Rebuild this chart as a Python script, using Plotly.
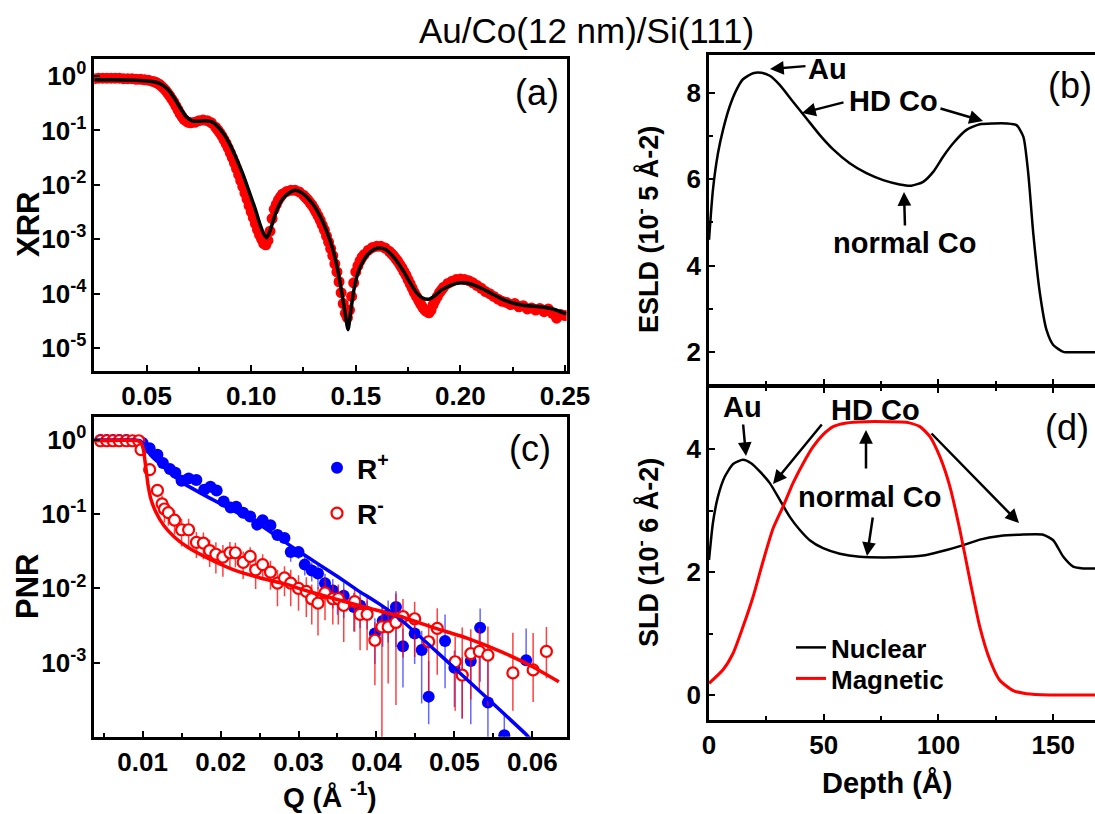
import plotly.graph_objects as go

W, H = 1095, 814
FONT = "Liberation Sans, Arial, sans-serif"

# ---------------- (a) XRR ----------------
xrr_q = [0.025, 0.027, 0.029, 0.031, 0.033, 0.035, 0.037, 0.039, 0.041, 0.043,
         0.045, 0.047, 0.049, 0.051, 0.053, 0.054, 0.055, 0.056, 0.057, 0.058,
         0.059, 0.060, 0.061, 0.062, 0.063, 0.064, 0.065, 0.066, 0.067, 0.068,
         0.069, 0.070, 0.071, 0.073, 0.075, 0.077, 0.079, 0.081, 0.083, 0.084,
         0.085, 0.086, 0.087, 0.088, 0.089, 0.090, 0.091, 0.092, 0.093, 0.094,
         0.095, 0.096, 0.097, 0.098, 0.099, 0.100, 0.101, 0.102, 0.103, 0.104,
         0.105, 0.106, 0.107, 0.108, 0.109, 0.110, 0.111, 0.112, 0.113, 0.114,
         0.115, 0.117, 0.119, 0.121, 0.123, 0.125, 0.126, 0.127, 0.128, 0.129,
         0.130, 0.131, 0.132, 0.133, 0.134, 0.135, 0.136, 0.137, 0.138, 0.139,
         0.140, 0.141, 0.142, 0.143, 0.144, 0.145, 0.146, 0.147, 0.148, 0.149,
         0.150, 0.151, 0.152, 0.153, 0.154, 0.156, 0.158, 0.160, 0.162, 0.164,
         0.166, 0.167, 0.168, 0.169, 0.170, 0.171, 0.172, 0.173, 0.174, 0.175,
         0.176, 0.177, 0.178, 0.179, 0.180, 0.181, 0.182, 0.183, 0.184, 0.185,
         0.186, 0.187, 0.188, 0.189, 0.190, 0.191, 0.192, 0.194, 0.196, 0.198,
         0.200, 0.202, 0.204, 0.206, 0.208, 0.210, 0.212, 0.214, 0.216, 0.218,
         0.220, 0.222, 0.224, 0.226, 0.228, 0.230, 0.232, 0.234, 0.236, 0.238,
         0.240, 0.242, 0.244, 0.246, 0.248, 0.250]
xrr_log = [-0.05, -0.04, -0.04, -0.04, -0.04, -0.04, -0.04, -0.05, -0.05, -0.05,
           -0.06, -0.06, -0.07, -0.08, -0.10, -0.11, -0.13, -0.15, -0.18, -0.22,
           -0.26, -0.31, -0.36, -0.42, -0.48, -0.55, -0.62, -0.69, -0.75, -0.80,
           -0.83, -0.85, -0.86, -0.85, -0.82, -0.81, -0.82, -0.86, -0.94, -0.99,
           -1.04, -1.10, -1.17, -1.24, -1.32, -1.41, -1.50, -1.60, -1.70, -1.81,
           -1.92, -2.03, -2.15, -2.26, -2.38, -2.49, -2.60, -2.71, -2.82, -2.92,
           -3.00, -3.08, -3.10, -3.02, -2.85, -2.62, -2.45, -2.36, -2.28, -2.22,
           -2.17, -2.12, -2.10, -2.10, -2.13, -2.19, -2.23, -2.27, -2.32, -2.37,
           -2.43, -2.50, -2.57, -2.65, -2.74, -2.83, -2.94, -3.05, -3.17, -3.30,
           -3.45, -3.60, -3.78, -3.98, -4.18, -4.36, -4.44, -4.30, -4.05, -3.80,
           -3.60, -3.49, -3.40, -3.33, -3.28, -3.20, -3.15, -3.13, -3.13, -3.16,
           -3.22, -3.26, -3.30, -3.35, -3.40, -3.46, -3.52, -3.59, -3.66, -3.74,
           -3.82, -3.90, -3.98, -4.05, -4.12, -4.19, -4.25, -4.30, -4.33, -4.35,
           -4.30, -4.20, -4.12, -4.05, -3.98, -3.93, -3.88, -3.81, -3.77, -3.74,
           -3.73, -3.74, -3.76, -3.80, -3.85, -3.90, -3.96, -4.00, -4.05, -4.10,
           -4.14, -4.16, -4.20, -4.18, -4.24, -4.22, -4.28, -4.26, -4.30, -4.27,
           -4.33, -4.28, -4.36, -4.45, -4.38, -4.40]
xrr_fit_q = [0.025, 0.035, 0.045, 0.050, 0.054, 0.057, 0.060, 0.063, 0.066, 0.069,
             0.072, 0.075, 0.078, 0.081, 0.084, 0.087, 0.090, 0.093, 0.096, 0.099,
             0.102, 0.104, 0.106, 0.1075, 0.109, 0.111, 0.113, 0.115, 0.118, 0.121,
             0.124, 0.127, 0.130, 0.133, 0.136, 0.139, 0.1415, 0.1435, 0.145, 0.1463,
             0.1475, 0.149, 0.151, 0.154, 0.157, 0.1605, 0.164, 0.167, 0.170, 0.173,
             0.176, 0.179, 0.182, 0.185, 0.188, 0.191, 0.195, 0.200, 0.205, 0.210,
             0.215, 0.220, 0.225, 0.230, 0.235, 0.240, 0.245, 0.2505]
xrr_fit_log = [-0.07, -0.07, -0.08, -0.09, -0.11, -0.15, -0.24, -0.39, -0.58, -0.75,
               -0.83, -0.83, -0.82, -0.84, -0.93, -1.07, -1.27, -1.52, -1.80, -2.12,
               -2.45, -2.70, -2.90, -2.97, -2.85, -2.60, -2.40, -2.26, -2.15, -2.10,
               -2.14, -2.24, -2.38, -2.58, -2.84, -3.18, -3.58, -4.02, -4.38, -4.66,
               -4.35, -3.95, -3.62, -3.37, -3.23, -3.16, -3.18, -3.28, -3.42, -3.60,
               -3.80, -3.98, -4.08, -4.10, -4.03, -3.93, -3.85, -3.80, -3.82, -3.90,
               -4.00, -4.10, -4.17, -4.21, -4.23, -4.25, -4.29, -4.37]

# ---------------- (c) PNR ----------------
rp_q = [0.0046, 0.0054, 0.0062, 0.0070, 0.0079, 0.0087, 0.0100, 0.0109, 0.0119, 0.0126,
        0.0135, 0.0142, 0.0150, 0.0159, 0.0169, 0.0179, 0.0187, 0.0195, 0.0204, 0.0213,
        0.0220, 0.0229, 0.0238, 0.0247, 0.0254, 0.0264, 0.0273, 0.0282, 0.0290, 0.0300,
        0.0308, 0.0317, 0.0325, 0.0334, 0.0344, 0.0350, 0.0358, 0.0371, 0.0379, 0.0388,
        0.0398, 0.0408, 0.0415, 0.0425, 0.0434, 0.0449, 0.0458, 0.0467, 0.0488, 0.0500,
        0.0510, 0.0521, 0.0533, 0.0543, 0.0564, 0.0592]
rp_log = [0.00, 0.00, 0.00, 0.00, 0.00, -0.01, -0.04, -0.11, -0.20, -0.31,
          -0.39, -0.44, -0.55, -0.52, -0.54, -0.67, -0.63, -0.68, -0.83, -0.91,
          -0.90, -0.98, -1.03, -1.14, -1.08, -1.15, -1.28, -1.32, -1.51, -1.51,
          -1.68, -1.76, -1.80, -1.93, -2.03, -2.13, -2.10, -2.25, -2.23, -2.32,
          -2.61, -2.44, -2.36, -2.25, -2.78, -2.61, -2.83, -3.46, -2.71, -3.07,
          -3.17, -2.98, -2.53, -3.54, -3.98, -2.97]
rp_err_plus = [0, 0, 0, 0, 0, 0, 0, 0, 0, 0,
               0, 0, 0, 0, 0, 0, 0, 0, 0, 0,
               0, 0, 0, 0.012, 0, 0.012, 0, 0, 0.008, 0.006,
               0.006, 0.005, 0.006, 0.004, 0.004, 0.003, 0.004, 0.003, 0.003, 0.002,
               0.0015, 0.002, 0.0025, 0.0035, 0.0012, 0.0015, 0.0012, 0.0007, 0.0025, 0.0006,
               0.0005, 0.0009, 0.0024, 0.001, 0.0001, 0.0018]
rp_err_minus = [0, 0, 0, 0, 0, 0, 0, 0, 0, 0,
                0, 0, 0, 0, 0, 0, 0, 0, 0, 0,
                0, 0, 0, 0.012, 0, 0.012, 0, 0, 0.008, 0.006,
                0.006, 0.005, 0.006, 0.004, 0.004, 0.003, 0.004, 0.003, 0.003, 0.002,
                0.0015, 0.002, 0.0025, 0.004, 0.0012, 0.0015, 0.0012, 0.0002, 0.0015, 0.0006,
                0.0005, 0.0009, 0.0024, 0.0002, 0.0001, 0.0001]

rm_q = [0.0046, 0.0054, 0.0062, 0.0070, 0.0079, 0.0087, 0.0095, 0.0098, 0.0109, 0.0119,
        0.0125, 0.0128, 0.0133, 0.0141, 0.0150, 0.0159, 0.0169, 0.0178, 0.0186, 0.0194,
        0.0203, 0.0212, 0.0219, 0.0229, 0.0238, 0.0245, 0.0254, 0.0264, 0.0273, 0.0282,
        0.0290, 0.0300, 0.0310, 0.0317, 0.0325, 0.0334, 0.0344, 0.0351, 0.0358, 0.0372,
        0.0379, 0.0388, 0.0398, 0.0407, 0.0415, 0.0425, 0.0434, 0.0449, 0.0467, 0.0478,
        0.0501, 0.0510, 0.0521, 0.0532, 0.0543, 0.0575, 0.0601, 0.0618]
rm_log = [-0.01, -0.01, -0.01, -0.01, -0.01, -0.01, -0.01, -0.13, -0.40, -0.68,
          -0.86, -0.93, -0.98, -1.08, -1.21, -1.21, -1.38, -1.39, -1.49, -1.54,
          -1.58, -1.52, -1.52, -1.65, -1.57, -1.75, -1.68, -1.78, -1.93, -1.86,
          -1.93, -2.00, -2.04, -2.14, -2.20, -2.06, -2.14, -2.14, -2.23, -2.18,
          -2.35, -2.35, -2.70, -2.52, -2.52, -2.46, -2.38, -2.41, -2.72, -2.54,
          -2.99, -3.17, -2.88, -2.85, -2.90, -3.14, -3.10, -2.85]
rm_err_plus = [0, 0, 0, 0, 0, 0, 0, 0, 0.04, 0.04,
               0.04, 0.04, 0.035, 0.03, 0.025, 0.025, 0.016, 0.016, 0.013, 0.013,
               0.012, 0.012, 0.011, 0.009, 0.009, 0.008, 0.008, 0.007, 0.006, 0.006,
               0.006, 0.005, 0.005, 0.004, 0.004, 0.005, 0.004, 0.004, 0.004, 0.004,
               0.003, 0.003, 0.0015, 0.003, 0.0025, 0.005, 0.003, 0.0027, 0.0015, 0.0025,
               0.0012, 0.0023, 0.0015, 0.0015, 0.0018, 0.0018, 0.0017, 0.0016]
rm_err_minus = [0, 0, 0, 0, 0, 0, 0, 0, 0.04, 0.04,
                0.04, 0.04, 0.035, 0.03, 0.025, 0.025, 0.016, 0.016, 0.013, 0.013,
                0.012, 0.012, 0.011, 0.009, 0.009, 0.008, 0.008, 0.007, 0.006, 0.006,
                0.006, 0.005, 0.005, 0.004, 0.004, 0.005, 0.004, 0.004, 0.004, 0.004,
                0.003, 0.003, 0.0015, 0.003, 0.0025, 0.0032, 0.003, 0.0027, 0.0015, 0.0022,
                0.0008, 0.0005, 0.001, 0.001, 0.001, 0.0005, 0.0005, 0.0008]

rp_fit_q = [0.0038, 0.0090, 0.0097, 0.0100, 0.0105, 0.0110, 0.0120, 0.0130, 0.0140, 0.0150,
            0.0175, 0.0200, 0.0225, 0.0250, 0.0275, 0.0300, 0.0325, 0.0350, 0.0375, 0.0405,
            0.0431, 0.0482, 0.0546, 0.0593, 0.0600]
rp_fit_log = [0.0, 0.0, -0.01, -0.04, -0.12, -0.20, -0.30, -0.39, -0.48, -0.57,
              -0.72, -0.86, -1.00, -1.14, -1.32, -1.50, -1.67, -1.84, -2.02, -2.22,
              -2.42, -2.90, -3.52, -3.98, -4.06]
rm_fit_q = [0.0038, 0.0094, 0.0098, 0.0101, 0.0104, 0.0107, 0.0111, 0.0117, 0.0127, 0.0140,
            0.0157, 0.0183, 0.0217, 0.0251, 0.0286, 0.0303, 0.0346, 0.0388, 0.0431, 0.0473,
            0.0516, 0.0559, 0.0601, 0.0634]
rm_fit_log = [-0.01, -0.01, -0.04, -0.13, -0.36, -0.61, -0.81, -0.97, -1.15, -1.30,
              -1.44, -1.59, -1.75, -1.86, -1.95, -2.01, -2.14, -2.26, -2.38, -2.53,
              -2.67, -2.85, -3.06, -3.26]

# ---------------- (b) ESLD ----------------
esld_depth = [0, 1.7, 3.9, 6.1, 9.0, 11.9, 14.8, 19.2, 22.8, 26.5,
              30.8, 36.6, 42.4, 48.3, 54.1, 61.3, 68.6, 75.9, 83.1, 88.2,
              93.3, 97.7, 102.0, 106.4, 112.2, 118.0, 123.8, 129.7, 134.0, 137.0,
              139.1, 141.3, 144.2, 147.1, 150.0, 154.4, 158.7, 170.0]
esld_val = [4.60, 5.75, 6.60, 7.14, 7.68, 8.06, 8.31, 8.45, 8.46, 8.39,
            8.18, 7.79, 7.41, 7.02, 6.69, 6.37, 6.14, 5.98, 5.88, 5.85,
            5.94, 6.17, 6.52, 6.83, 7.14, 7.27, 7.29, 7.29, 7.25, 6.98,
            6.14, 4.75, 3.36, 2.51, 2.17, 2.01, 2.00, 2.00]

# ---------------- (d) SLD ----------------
nuc_depth = [0, 1.7, 3.9, 6.8, 10.5, 14.8, 18.5, 22.1, 26.5, 30.8,
             35.2, 39.5, 43.9, 49.7, 57.0, 65.7, 75.9, 86.0, 94.8, 103.5,
             110.8, 118.0, 126.7, 135.5, 145.6, 150.0, 154.4, 158.7, 163.0, 170.0]
nuc_val = [2.20, 2.80, 3.23, 3.55, 3.76, 3.83, 3.77, 3.64, 3.45, 3.18,
           2.90, 2.69, 2.52, 2.39, 2.30, 2.25, 2.24, 2.25, 2.28, 2.36,
           2.44, 2.53, 2.59, 2.61, 2.61, 2.52, 2.25, 2.09, 2.06, 2.06]
mag_depth = [0, 6.1, 10.5, 14.8, 19.2, 23.5, 27.9, 32.3, 36.6, 41.0,
             45.3, 49.7, 54.1, 59.9, 68.6, 77.3, 86.0, 91.9, 96.2, 100.6,
             105.0, 109.3, 113.7, 118.0, 122.4, 126.7, 132.6, 138.4, 148.5, 170.0]
mag_val = [0.19, 0.41, 0.68, 1.11, 1.60, 2.17, 2.71, 3.07, 3.45, 3.77,
           4.04, 4.24, 4.37, 4.43, 4.45, 4.45, 4.44, 4.37, 4.21, 3.88,
           3.39, 2.69, 1.87, 1.11, 0.57, 0.24, 0.07, 0.02, 0.00, 0.00]

log_ticks_a = [0, -1, -2, -3, -4, -5]
log_ticks_c = [0, -1, -2, -3]


def pw(v):
    return [10 ** x for x in v]


def px(x, y):
    return x / W, 1 - y / H


fig = go.Figure()

# (a)
fig.add_trace(go.Scatter(x=xrr_q, y=pw(xrr_log), mode="markers",
                         marker=dict(color="red", size=11, line=dict(width=0)),
                         xaxis="x", yaxis="y", showlegend=False))
fig.add_trace(go.Scatter(x=xrr_fit_q, y=pw(xrr_fit_log), mode="lines",
                         line=dict(color="black", width=3.5, shape="spline", smoothing=0.6),
                         xaxis="x", yaxis="y", showlegend=False))

# (c)
fig.add_trace(go.Scatter(x=rp_q, y=pw(rp_log), mode="markers", name="R<sup>+</sup>",
                         marker=dict(color="blue", size=12, symbol="circle"),
                         error_y=dict(type="data", array=rp_err_plus, arrayminus=rp_err_minus,
                                      color="rgba(0,0,255,0.6)", thickness=1.5, width=0),
                         xaxis="x2", yaxis="y2", legend="legend", legendgroup="p"))
fig.add_trace(go.Scatter(x=rm_q, y=pw(rm_log), mode="markers", name="R<sup>-</sup>",
                         marker=dict(color="white", size=11, symbol="circle",
                                     line=dict(color="red", width=2.2)),
                         error_y=dict(type="data", array=rm_err_plus, arrayminus=rm_err_minus,
                                      color="rgba(255,0,0,0.75)", thickness=1.5, width=0),
                         xaxis="x2", yaxis="y2", legend="legend", legendgroup="m"))
fig.add_trace(go.Scatter(x=rp_fit_q, y=pw(rp_fit_log), mode="lines",
                         line=dict(color="blue", width=3.5, shape="spline", smoothing=0.4),
                         xaxis="x2", yaxis="y2", showlegend=False))
fig.add_trace(go.Scatter(x=rm_fit_q, y=pw(rm_fit_log), mode="lines",
                         line=dict(color="red", width=3.5, shape="spline", smoothing=0.5),
                         xaxis="x2", yaxis="y2", showlegend=False))

# (b)
fig.add_trace(go.Scatter(x=esld_depth, y=esld_val, mode="lines",
                         line=dict(color="black", width=2.5, shape="spline", smoothing=0.6),
                         xaxis="x3", yaxis="y3", showlegend=False))

# (d)
fig.add_trace(go.Scatter(x=nuc_depth, y=nuc_val, mode="lines", name="Nuclear",
                         line=dict(color="black", width=2.5, shape="spline", smoothing=0.6),
                         xaxis="x4", yaxis="y4", legend="legend2"))
fig.add_trace(go.Scatter(x=mag_depth, y=mag_val, mode="lines", name="Magnetic",
                         line=dict(color="red", width=3, shape="spline", smoothing=0.6),
                         xaxis="x4", yaxis="y4", legend="legend3"))

tickfont = dict(family=FONT, size=26, color="black", weight="bold")
common = dict(showgrid=False, zeroline=False, showline=True, linecolor="black",
              linewidth=2.5, ticks="inside", tickcolor="black", tickwidth=2,
              ticklen=6, tickfont=tickfont, automargin=False)
minor_t = dict(ticks="inside", ticklen=4, tickcolor="black", tickwidth=2)

ax_a = [0.0861, 0.5175]
y_join_d = 1 - 387 / H
y_join_b = 1 - 384.5 / H
leg_font = dict(family=FONT, size=26, weight="bold")
fig.update_layout(
    width=W, height=H,
    margin=dict(l=0, r=0, t=0, b=0),
    paper_bgcolor="white", plot_bgcolor="white",
    font=dict(family=FONT, color="black"),
    xaxis=dict(domain=ax_a, range=[0.025, 0.2508], anchor="y", mirror=True,
               tick0=0.05, dtick=0.05, tickformat=".2f",
               minor=dict(dtick=0.025, **minor_t), **common),
    yaxis=dict(domain=[0.5442, 0.9271], type="log", range=[-5.42, 0.306], anchor="x",
               mirror=True, tickvals=pw(log_ticks_a),
               ticktext=["10<sup>%d</sup>" % v for v in log_ticks_a], **common),
    xaxis2=dict(domain=ax_a, range=[0.0038, 0.0644], anchor="y2", mirror=True,
                tick0=0.01, dtick=0.01, tickformat=".2f",
                minor=dict(dtick=0.005, **minor_t), **common),
    yaxis2=dict(domain=[0.0950, 0.4873], type="log", range=[-4.0, 0.306], anchor="x2",
                mirror=True, tickvals=pw(log_ticks_c),
                ticktext=["10<sup>%d</sup>" % v for v in log_ticks_c], **common),
    xaxis3=dict(domain=[0.6475, 1.0], range=[0, 168.2], anchor="y3", mirror=True,
                dtick=50, showticklabels=False,
                minor=dict(dtick=25, **minor_t), **common),
    yaxis3=dict(domain=[y_join_b, 0.9324], range=[1.256, 8.87], anchor="x3",
                dtick=2, minor=dict(dtick=1, **minor_t), **common),
    xaxis4=dict(domain=[0.6475, 1.0], range=[0, 168.2], anchor="y4", mirror="ticks",
                dtick=50, minor=dict(dtick=25, **minor_t), **common),
    yaxis4=dict(domain=[0.1155, y_join_d], range=[-0.407, 5.015], anchor="x4",
                dtick=2, minor=dict(dtick=1, **minor_t), **common),
    legend=dict(x=317 / W, y=1 - 443 / H, xanchor="left", yanchor="top",
                bgcolor="rgba(0,0,0,0)", font=dict(family=FONT, size=28, weight="bold"),
                tracegroupgap=6, itemsizing="trace"),
    legend2=dict(x=791 / W, y=1 - 624 / H, xanchor="left", yanchor="top",
                 bgcolor="rgba(0,0,0,0)", font=leg_font),
    legend3=dict(x=791 / W, y=1 - 655 / H, xanchor="left", yanchor="top",
                 bgcolor="rgba(0,0,0,0)", font=leg_font),
)

annotations = []


def text_at(x, y, s, size, bold=True, angle=0):
    xp, yp = px(x, y)
    annotations.append(dict(x=xp, y=yp, xref="paper", yref="paper", text=s,
                            showarrow=False, xanchor="center", yanchor="middle",
                            textangle=angle,
                            font=dict(family=FONT, size=size, color="black",
                                      weight="bold" if bold else "normal")))


def arrow(hx, hy, tx, ty):
    xp, yp = px(hx, hy)
    annotations.append(dict(x=xp, y=yp, xref="paper", yref="paper", text="",
                            showarrow=True, ax=tx - hx, ay=ty - hy,
                            arrowhead=2, arrowsize=1.1, arrowwidth=2.5,
                            arrowcolor="black", standoff=0, startstandoff=0))


# title
text_at(586, 30, "Au/Co(12 nm)/Si(111)", 35, bold=False)
# axis titles
text_at(28, 225, "XRR", 31, angle=-90)
text_at(27, 587, "PNR", 31, angle=-90)
text_at(330, 795, "Q (Å <sup>-1</sup>)", 28)
text_at(647, 230, "ESLD (10<sup>-</sup> 5 Å-2)", 27, angle=-90)
text_at(647, 553, "SLD (10<sup>-</sup> 6 Å-2)", 27, angle=-90)
text_at(887, 783, "Depth (Å)", 29)
# panel labels
text_at(537, 92, "(a)", 36, bold=False)
text_at(1070, 85, "(b)", 36, bold=False)
text_at(530, 448, "(c)", 36, bold=False)
text_at(1067, 427, "(d)", 36, bold=False)
# (b) annotations
text_at(827, 69, "Au", 29)
text_at(893, 101, "HD Co", 29)
text_at(904, 243, "normal Co", 29)
arrow(770, 69, 807, 66)
arrow(802, 113, 845, 102)
arrow(983, 121, 939, 108)
arrow(904, 192, 905, 227)
# (d) annotations
text_at(742, 407, "Au", 29)
text_at(875, 410, "HD Co", 29)
text_at(869, 497, "normal Co", 29)
arrow(746, 456, 743, 423)
arrow(773, 484, 823, 423)
arrow(866, 430, 866, 470)
arrow(1019, 523, 930, 432)
arrow(867, 556, 873, 516)

fig.update_layout(annotations=annotations)

fig.write_html("out.html", config={"displayModeBar": False},
               post_script="document.body.style.margin='0px';")
